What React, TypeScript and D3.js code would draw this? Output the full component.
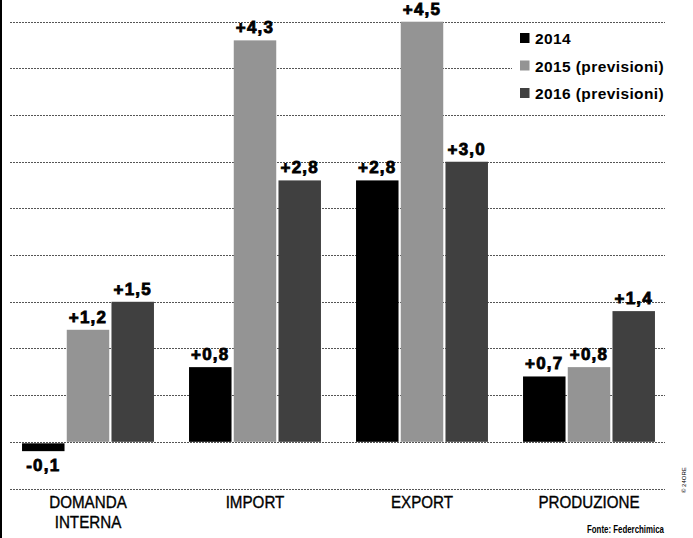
import React from "react";
import * as d3 from "d3";

const categories = ["DOMANDA INTERNA", "IMPORT", "EXPORT", "PRODUZIONE"];
const categoryLines = [["DOMANDA", "INTERNA"], ["IMPORT"], ["EXPORT"], ["PRODUZIONE"]];
const seriesNames = ["2014", "2015 (previsioni)", "2016 (previsioni)"];
const values2014 = [-0.1, 0.8, 2.8, 0.7];
const values2015 = [1.2, 4.3, 4.5, 0.8];
const values2016 = [1.5, 2.8, 3.0, 1.4];
const yTicks = [-0.5, 0, 0.5, 1, 1.5, 2, 2.5, 3, 3.5, 4, 4.5];
const sourceText = "Fonte: Federchimica";
const creditText = "© 24ORE";

const seriesValues = [values2014, values2015, values2016];
const seriesColors = ["#000000", "#949494", "#404040"];

const W = 693;
const H = 538;

const fmt = (v: number) =>
  (v > 0 ? "+" : "-") + Math.abs(v).toFixed(1).replace(".", ",");

export default function App() {
  const y = d3.scaleLinear().domain([-0.5, 4.5]).range([488.5, 21.7]);
  const x = d3
    .scaleBand<string>()
    .domain(categories)
    .range([4.5, 672.5])
    .paddingInner(0.21)
    .paddingOuter(0.105);
  const xs = d3
    .scaleBand<string>()
    .domain(seriesNames)
    .range([0, x.bandwidth()])
    .paddingInner(0.05);

  const labelScale = 0.92;

  return (
    <svg
      width={W}
      height={H}
      style={{ position: "absolute", left: 0, top: 0, background: "#fff" }}
      fontFamily="'Liberation Sans', Arial, sans-serif"
    >
      <rect x={0} y={0} width={W} height={H} fill="#fff" />
      {/* left border */}
      <rect x={0} y={0} width={2} height={H} fill="#000" />

      {/* gridlines */}
      {yTicks.map((t) => (
        <line
          key={t}
          x1={10}
          x2={665}
          y1={Math.round(y(t)) + 0.5}
          y2={Math.round(y(t)) + 0.5}
          stroke="#555"
          strokeWidth={1}
          strokeDasharray="2 1"
        />
      ))}

      {/* legend background */}
      <rect x={512} y={28} width={156} height={77} fill="#fff" />

      {/* bars */}
      {seriesNames.map((s, si) =>
        categories.map((c, ci) => {
          const v = seriesValues[si][ci];
          const x0 = (x(c) as number) + (xs(s) as number);
          const y0 = y(Math.max(0, v));
          const y1 = y(Math.min(0, v));
          const cx = x0 + xs.bandwidth() / 2;
          return (
            <g key={s + c}>
              <rect
                x={x0}
                y={v < 0 ? y0 + 1.5 : y0}
                width={xs.bandwidth()}
                height={v < 0 ? y1 - y0 - 1.5 : y1 - y0}
                fill={seriesColors[si]}
              />
              <text
                x={cx}
                y={v >= 0 ? y0 - 7 : y1 + 20}
                textAnchor="middle"
                fontSize={17}
                fontWeight="bold"
                letterSpacing={1.2}
                stroke="#000"
                strokeWidth={0.8}
                fill="#000"
              >
                {fmt(v)}
              </text>
            </g>
          );
        })
      )}

      {/* category labels */}
      <g transform={`scale(${labelScale},1)`}>
        {categories.map((c, ci) => {
          const cx = (x(c) as number) + x.bandwidth() / 2;
          return categoryLines[ci].map((line, li) => (
            <text
              key={c + li}
              x={cx / labelScale}
              y={508 + li * 20}
              textAnchor="middle"
              fontSize={16.5}
              fill="#000"
              stroke="#000"
              strokeWidth={0.35}
            >
              {line}
            </text>
          ));
        })}
      </g>

      {/* legend */}
      {seriesNames.map((s, si) => (
        <g key={s} transform={`translate(520, ${33 + si * 27.5})`}>
          <rect x={0} y={0} width={9.5} height={10} fill={seriesColors[si]} />
          <text
            x={15}
            y={11}
            fontSize={15.5}
            fontWeight="bold"
            letterSpacing={0.4}
            fill="#000"
          >
            {s}
          </text>
        </g>
      ))}

      {/* source */}
      <text
        x={664}
        y={533}
        textAnchor="end"
        fontSize={10.5}
        fontWeight="bold"
        textLength={77}
        lengthAdjust="spacingAndGlyphs"
        fill="#000"
      >
        {sourceText}
      </text>

      {/* credit */}
      <text
        transform="translate(686, 493) rotate(-90)"
        fontSize={6}
        fill="#000"
      >
        {creditText}
      </text>
    </svg>
  );
}
